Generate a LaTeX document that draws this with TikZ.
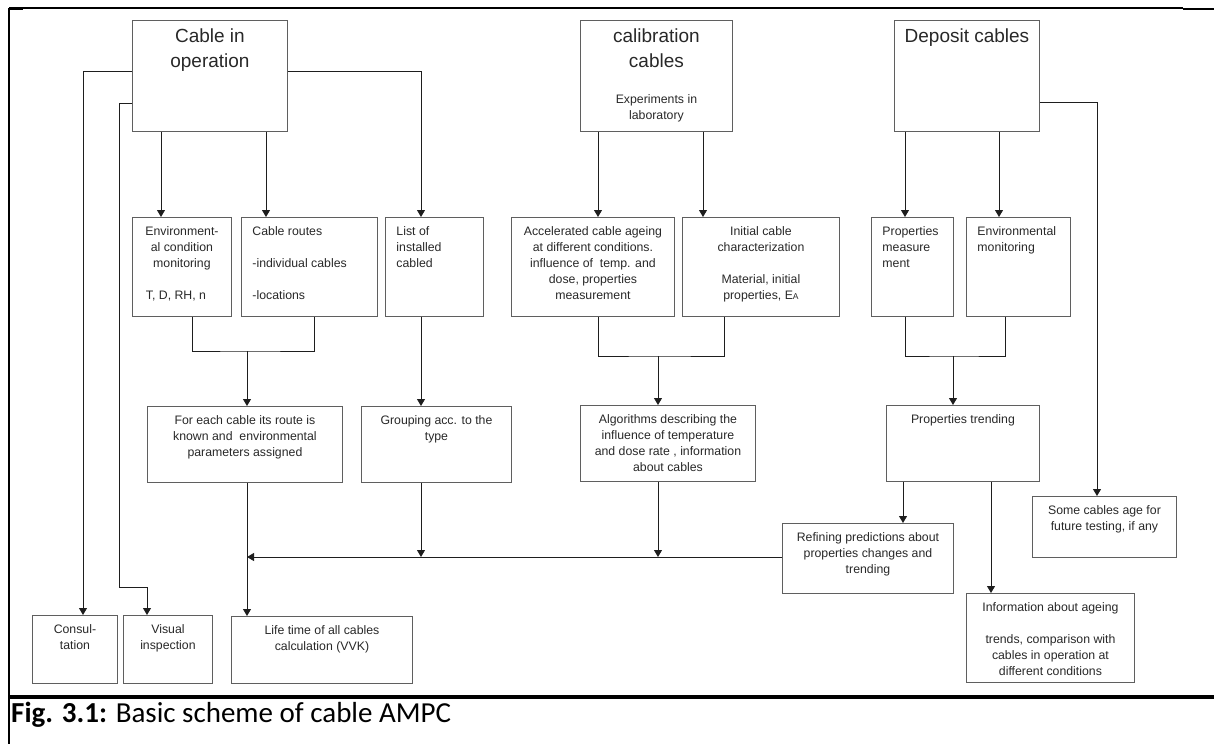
\documentclass[tikz,border=0pt]{standalone}
\usepackage{fontspec}
\setmainfont{Liberation Sans}
\newfontfamily\capfont{Carlito}
\usetikzlibrary{arrows.meta}
\definecolor{boxgray}{RGB}{95,95,95}
\definecolor{linegray}{RGB}{30,30,30}
\definecolor{textgray}{RGB}{40,40,40}
% box texts: centred, left, title
\newcommand{\ctext}[3]{\parbox[t][#2][t]{#1}{\centering\baselineskip=16pt\rule{0pt}{18.5pt}#3}}
\newcommand{\ltext}[3]{\parbox[t][#2][t]{#1}{\raggedright\leftskip=11pt\baselineskip=16pt\rule{0pt}{18.5pt}#3}}
\newcommand{\ttext}[3]{\parbox[t][#2][t]{#1}{\centering\fontsize{19pt}{25pt}\selectfont\rule{0pt}{22pt}#3}}

\begin{document}
\begin{tikzpicture}[x=1pt,y=-1pt,
    box/.style={draw=boxgray, line width=0.9pt, inner sep=0pt, anchor=north west,
      text=textgray, font=\fontsize{12.3pt}{16pt}\selectfont},
    ln/.style={draw=linegray, line width=0.9pt},
    arr/.style={ln, -{Triangle[width=8pt,length=7pt]}}]
\useasboundingbox (0,0) rectangle (1214,744);

% Frame
\draw[line width=2pt] (9,8) -- (9,744);
\draw[line width=1.2pt] (9,8) -- (1183,8);
\draw[line width=2.5pt] (9,9) -- (23,9);
\draw[line width=2.5pt] (1183,9) -- (1214,9);
\draw[line width=3.3pt] (9,697) -- (1214,697);

% Top row
\node[box] (cio) at (132,20) {\ttext{155pt}{111pt}{Cable in\\operation}};
\node[box] (cal) at (580,20) {\ttext{152pt}{111pt}{calibration\\cables\par\vspace{20pt}%
  {\fontsize{12.3pt}{16pt}\selectfont Experiments in\\laboratory\par}}};
\node[box] (dep) at (894,20) {\ttext{145pt}{111pt}{Deposit cables}};

% Second row
\node[box] (env) at (132,217) {\ctext{99pt}{99pt}{Environment-\\al condition\\monitoring\\[16pt]T, D, RH, n\hspace*{12pt}}};
\node[box] (route) at (241,217) {\ltext{136pt}{99pt}{Cable routes\\[16pt]-individual cables\\[16pt]-locations}};
\node[box] (list) at (385,217) {\ltext{98pt}{99pt}{List of\\installed\\cabled}};
\node[box] (accel) at (511,217) {\ctext{163pt}{99pt}{Accelerated cable ageing\\at different conditions.\\influence of~ temp. and\\dose, properties\\measurement}};
\node[box] (init) at (682,217) {\ctext{157pt}{99pt}{Initial cable\\characterization\\[16pt]Material, initial\\properties, E{\fontsize{8.5pt}{10pt}\selectfont A}}};
\node[box] (pmeas) at (871,217) {\ltext{82pt}{99pt}{Properties\\measure\\ment}};
\node[box] (envmon) at (966,217) {\ltext{104pt}{99pt}{Environmental\\monitoring}};

% Third row
\node[box] (each) at (147,406) {\ctext{195pt}{76pt}{For each cable its route is\\known and~ environmental\\parameters assigned}};
\node[box] (group) at (361,406) {\ctext{150pt}{76pt}{Grouping acc. to the\\type}};
\node[box] (algo) at (580,405) {\ctext{175pt}{76pt}{Algorithms describing the\\influence of temperature\\and dose rate , information\\about cables}};
\node[box] (trend) at (886,405) {\ctext{153pt}{76pt}{Properties trending}};

% Lower boxes
\node[box] (some) at (1032,496) {\ctext{144pt}{61pt}{Some cables age for\\future testing, if any}};
\node[box] (refine) at (782,523) {\ctext{171pt}{70pt}{Refining predictions about\\properties changes and\\trending}};
\node[box] (info) at (966,593) {\ctext{168pt}{89pt}{Information about ageing\\[16pt]trends, comparison with\\cables in operation at\\different conditions}};
\node[box] (consult) at (32,615) {\ctext{85pt}{68pt}{Consul-\\tation}};
\node[box] (visual) at (123,615) {\ctext{89pt}{68pt}{Visual\\inspection}};
\node[box] (life) at (231,616) {\ctext{181pt}{67pt}{Life time of all cables\\calculation (VVK)}};

% Caption
\node[anchor=base west, inner sep=0pt, font=\capfont\fontsize{29pt}{33pt}\selectfont] (cap) at (11,722)
  {\textbf{Fig. 3.1:} Basic scheme of cable AMPC};

% Cable in operation
\coordinate (vbend) at (119,587);
\draw[arr] ([yshift=-51pt]cio.north west) -| ([xshift=51pt]consult.north west);
\draw[arr] ([yshift=-83pt]cio.north west) -| (vbend) -| ([xshift=24pt]visual.north west);
\draw[arr] ([yshift=-51pt]cio.north east) -| ([xshift=36pt]list.north west);
\draw[arr] ([xshift=29pt]cio.south west) -- ([xshift=29pt]env.north west);
\draw[arr] ([xshift=134pt]cio.south west) -- ([xshift=25pt]route.north west);
\coordinate (j1) at (247,351);
\draw[ln] ([xshift=60pt]env.south west) |- (j1) -| ([xshift=73pt]route.south west);
\draw[arr] (j1) -- (j1 |- each.north);

% Calibration cables
\draw[arr] ([xshift=18pt]cal.south west) -- ([xshift=87pt]accel.north west);
\draw[arr] ([xshift=123pt]cal.south west) -- ([xshift=21pt]init.north west);
\coordinate (j2) at (658,356);
\draw[ln] ([xshift=87pt]accel.south west) |- (j2) -| ([xshift=42pt]init.south west);
\draw[arr] (j2) -- (j2 |- algo.north);

% Deposit cables
\draw[arr] ([xshift=11pt]dep.south west) -- ([xshift=34pt]pmeas.north west);
\draw[arr] ([xshift=105pt]dep.south west) -- ([xshift=33pt]envmon.north west);
\coordinate (j3) at (953,356);
\draw[ln] ([xshift=34pt]pmeas.south west) |- (j3) -| ([xshift=39pt]envmon.south west);
\draw[arr] (j3) -- (j3 |- trend.north);
\draw[arr] ([yshift=-82pt]dep.north east) -| ([xshift=65pt]some.north west);

% Towards the results
\draw[arr] ([xshift=36pt]list.south west) -- ([xshift=60pt]group.north west);
\draw[arr] ([xshift=17pt]trend.south west) -- ([xshift=121pt]refine.north west);
\draw[arr] ([xshift=105pt]trend.south west) -- ([xshift=25pt]info.north west);
\draw[arr] ([xshift=100pt]each.south west) -- ([xshift=16pt]life.north west);
\coordinate (hit) at (247,557);
\coordinate (g1) at (421,557);
\coordinate (a1) at (658,557);
\draw[arr] ([yshift=-34pt]refine.north west) -- (hit);
\draw[arr] (g1 |- group.south) -- (g1);
\draw[arr] (a1 |- algo.south) -- (a1);
\end{tikzpicture}
\end{document}
